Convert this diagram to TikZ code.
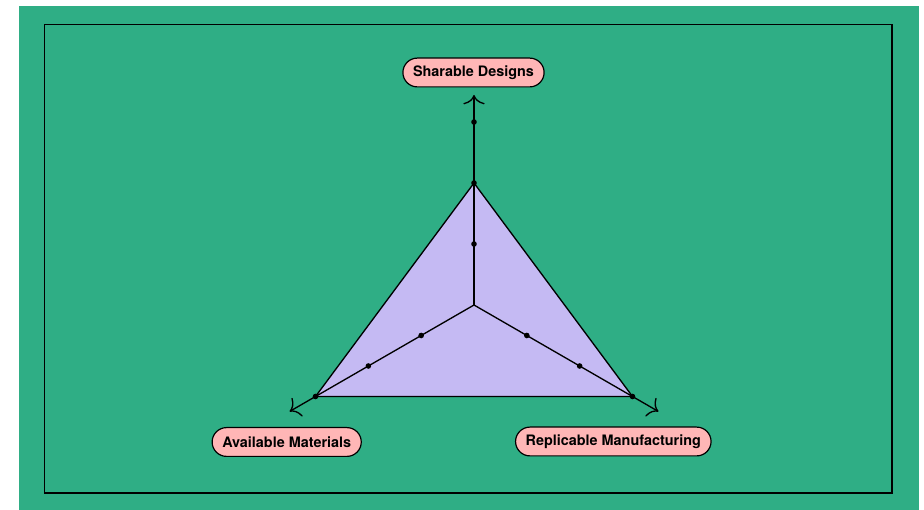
\documentclass[tikz,border=0pt]{standalone}
\usepackage{fontspec}
\setmainfont{TeX Gyre Heros}
\usetikzlibrary{arrows.meta,calc}
\definecolor{bggreen}{RGB}{47,174,133}
\definecolor{areafill}{RGB}{197,186,243}
\definecolor{labelpink}{RGB}{255,182,182}
\begin{document}
\begin{tikzpicture}[x=0.75pt,y=0.75pt,
  axisline/.style={line width=1pt,-{Computer Modern Rightarrow[length=7pt,width=16pt,line width=1pt]}},
  axislabel/.style={draw,line width=0.9pt,fill=labelpink,rounded corners=10.8pt,
    minimum height=21.6pt,inner xsep=7.6pt,font=\fontsize{10.8}{12}\selectfont\bfseries},
  tick/.style={fill=black}
]
\useasboundingbox (0,0) rectangle (924,510);
% backdrop and frame
\fill[bggreen] (19,0) rectangle (919,504);
\draw[line width=1.1pt] (44.5,17) rectangle (892,485.3);

% radar centre, unit step 61
\coordinate (c) at (474,205);
\coordinate (t1) at ($(c)+(90:61)$);
\coordinate (t2) at ($(c)+(90:122)$);
\coordinate (t3) at ($(c)+(90:183)$);
\coordinate (l1) at ($(c)+(210:61)$);
\coordinate (l2) at ($(c)+(210:122)$);
\coordinate (l3) at ($(c)+(210:183)$);
\coordinate (r1) at ($(c)+(330:61)$);
\coordinate (r2) at ($(c)+(330:122)$);
\coordinate (r3) at ($(c)+(330:183)$);
\coordinate (tend) at ($(c)+(90:210)$);
\coordinate (lend) at ($(c)+(210:213)$);
\coordinate (rend) at ($(c)+(330:213)$);

% value area
\draw[fill=areafill,line width=1pt,line join=round] (t2) -- (l3) -- (r3) -- cycle;

% axes
\draw[axisline] (c) -- (tend);
\draw[axisline] (c) -- (lend);
\draw[axisline] (c) -- (rend);

% tick marks
\foreach \p in {t1,t2,t3,l1,l2,l3,r1,r2,r3}
  \fill[tick] (\p) circle (2.8);

% axis labels
\node[axislabel] (design) at (473.5,437.5) {Sharable Designs};
\node[axislabel] (material) at (286.7,68) {Available Materials};
\node[axislabel] (manufacture) at (613.3,68.5) {Replicable Manufacturing};
\end{tikzpicture}
\end{document}
